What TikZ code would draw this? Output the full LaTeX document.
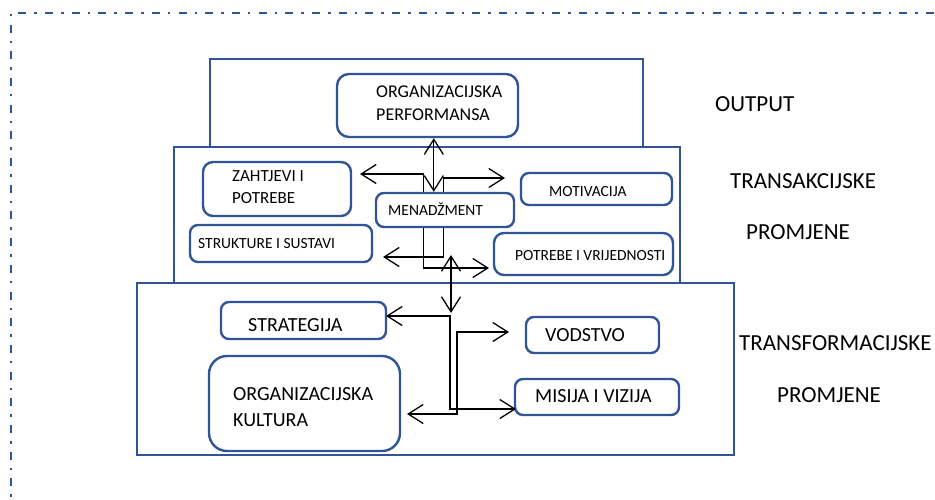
\documentclass[tikz,border=0pt]{standalone}
\usepackage{fontspec}
\setmainfont{Carlito}
\usetikzlibrary{arrows.meta,calc}
\definecolor{bblue}{RGB}{47,85,151}
\begin{document}
\begin{tikzpicture}[x=1pt,y=-1pt,
  outerbox/.style={draw=bblue,line width=2pt},
  ibox/.style={draw=bblue,line width=2.4pt,rounded corners=#1,inner sep=0pt,minimum width=0pt},
  ibox/.default=8pt,
  txt/.style={inner sep=0pt,anchor=base west,text=black},
  fbig/.style={font=\fontsize{23}{27}\selectfont},
  fmid/.style={font=\fontsize{20}{24}\selectfont},
  fper/.style={font=\fontsize{18}{22}\selectfont},
  fzah/.style={font=\fontsize{17}{20}\selectfont},
  fsm/.style={font=\fontsize{15.5}{18}\selectfont},
  conn/.style={draw=black,line width=1.3pt},
  arr/.style={conn,-{Straight Barb[length=15pt,width=19pt]}},
  darr/.style={conn,{Straight Barb[length=15pt,width=19pt]}-{Straight Barb[length=15pt,width=19pt]}},
  frame/.style={draw=bblue,line width=2pt,dash pattern=on 8pt off 8pt on 2.5pt off 8.2pt}
]
\useasboundingbox (0,0) rectangle (935,499);
% dashed frame
\draw[frame,dash phase=19.4pt] (11,13) -- (945,13);
\draw[frame,dash phase=15.2pt] (11,13) -- (11,510);

% outer boxes
\node[outerbox,minimum width=433pt,minimum height=88pt,inner sep=0pt] (topbox) at (426.5,103) {};
\node[outerbox,minimum width=506pt,minimum height=136pt,inner sep=0pt] (midbox) at (427,215) {};
\node[outerbox,minimum width=597pt,minimum height=172pt,inner sep=0pt] (botbox) at (435.5,369) {};

% inner boxes
\node[ibox=12pt,minimum width=181pt,minimum height=63pt] (perf) at (427.5,105.5) {};
\node[ibox=10pt,minimum width=148pt,minimum height=54pt] (zah) at (277,189) {};
\node[ibox,minimum width=151pt,minimum height=32pt] (mot) at (596.5,189) {};
\node[ibox,minimum width=138pt,minimum height=34pt] (men) at (445,210) {};
\node[ibox,minimum width=182pt,minimum height=37pt] (struk) at (281,243.5) {};
\node[ibox=10pt,minimum width=179pt,minimum height=42pt] (pv) at (583.5,254) {};
\node[ibox,minimum width=165pt,minimum height=37pt] (strat) at (303.5,320.5) {};
\node[ibox,minimum width=133pt,minimum height=36pt] (vod) at (592.5,335) {};
\node[ibox=18pt,minimum width=191pt,minimum height=95pt] (kul) at (304.5,403.5) {};
\node[ibox,minimum width=164pt,minimum height=36pt] (mis) at (597,397) {};

% texts
\node[txt,fper] (perf1) at (376,97) {ORGANIZACIJSKA};
\node[txt,fper] (perf2) at (376,120) {PERFORMANSA};
\node[txt,fzah] (zah1) at (232,181) {ZAHTJEVI I};
\node[txt,fzah] (zah2) at (232,203) {POTREBE};
\node[txt,fsm] (mot1) at (549,196) {MOTIVACIJA};
\node[txt,fsm] (men1) at (388,215) {MENADŽMENT};
\node[txt,fsm] (struk1) at (198,248) {STRUKTURE I SUSTAVI};
\node[txt,fsm] (pv1) at (515,260) {POTREBE I VRIJEDNOSTI};
\node[txt,fmid] (strat1) at (248,331) {STRATEGIJA};
\node[txt,fmid] (kul1) at (233,400) {ORGANIZACIJSKA};
\node[txt,fmid] (kul2) at (233,426) {KULTURA};
\node[txt,fmid] (vod1) at (545,341) {VODSTVO};
\node[txt,fmid] (mis1) at (535,402) {MISIJA I VIZIJA};

\node[txt,fbig] (lout) at (715,111) {OUTPUT};
\node[txt,fbig] (ltra) at (730,188) {TRANSAKCIJSKE};
\node[txt,fbig] (lpro1) at (746,239) {PROMJENE};
\node[txt,fbig] (ltrf) at (739,350) {TRANSFORMACIJSKE};
\node[txt,fbig] (lpro2) at (777,402) {PROMJENE};

% connector coordinates
\coordinate (tZah) at (360,174);
\coordinate (tMot) at (505,178);
\coordinate (tPv) at (489,268);
\coordinate (tStr) at (383,257);
\coordinate (jUp) at (451,255);
\coordinate (jDn) at (451,313);
\coordinate (tStrat) at (386,316);
\coordinate (jA) at (450,409);
\coordinate (tMis) at (516,409);
\coordinate (tVod) at (509,332);
\coordinate (jB) at (457,414);
\coordinate (tKul) at (407,414);

% connectors
\draw[darr] ([xshift=59pt]men.north west) -- ([xshift=98pt]perf.south west);
\draw[arr] ([xshift=49pt]men.north west) |- (tZah);
\draw[arr] ([xshift=69pt]men.north west) |- (tMot);
\draw[arr] ([xshift=49pt]men.south west) |- (tPv);
\draw[arr] ([xshift=69pt]men.south west) |- (tStr);
\draw[darr] (jUp) -- (jDn);
\draw[darr] (tStrat) -| (jA) -- (tMis);
\draw[darr] (tVod) -| (jB) -- (tKul);
\end{tikzpicture}
\end{document}
